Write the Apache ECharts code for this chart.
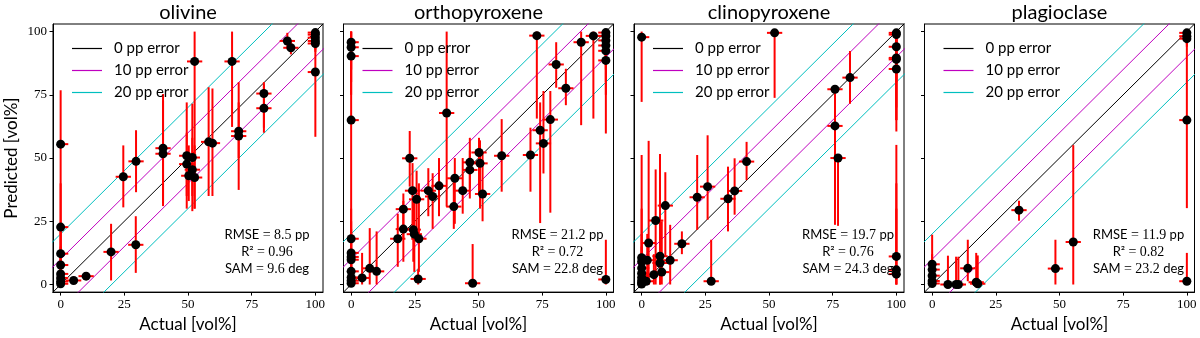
<!DOCTYPE html>
<html lang="en">
<head>
<meta charset="UTF-8">
<title>Predicted vs actual</title>
<script src="https://cdn.jsdelivr.net/npm/echarts@6/dist/echarts.min.js"></script>
<style>html,body{margin:0;background:#fff}</style>
</head>
<body>
<div id="main" style="width:1200px;height:338px;"></div>
<script>
// panel titles
const minerals = ['olivine', 'orthopyroxene', 'clinopyroxene', 'plagioclase'];

// rows: [actual, predicted, predicted low, predicted high]
const olivine = [
  [0, 55.5, 0, 76.8], [0, 22.7, 5, 40], [0, 12.2, 2, 22], [0, 7.7, 0, 15],
  [0, 4.2, 0, 9], [0, 2.6, 0, 6], [0, 1.2, 0, 3], [0, 0.3, 0, 1],
  [5.1, 1.6, 0.5, 3], [10.0, 3.3, 2, 4.8], [19.8, 12.9, 1.6, 24.0],
  [24.6, 42.6, 30.5, 55.0], [29.5, 15.7, 4.6, 27.0], [29.6, 48.7, 36.5, 61.0],
  [40.2, 53.9, 31.0, 75.3], [40.2, 51.7, 32.0, 72.8], [49.5, 50.9, 30.0, 72.0],
  [49.5, 47.6, 35.0, 60.0], [50.3, 43.0, 33.0, 55.0], [51.7, 50.2, 29.0, 71.5],
  [51.7, 45.4, 35.0, 58.0], [52.6, 42.3, 30.0, 55.0], [52.6, 88.2, 30.0, 100],
  [58.1, 56.4, 35.0, 78.0], [59.6, 55.9, 35.0, 77.5], [67.3, 88.2, 62.3, 100],
  [69.9, 60.6, 50.0, 72.0], [69.9, 58.7, 37.4, 80.0], [79.8, 75.5, 62.0, 80.0],
  [79.8, 69.7, 60.0, 79.0], [89.0, 96.3, 93.0, 99.5], [90.4, 93.6, 91.0, 96.0],
  [100, 99.6, 98, 100], [100, 98.8, 96, 100], [100, 97.6, 95, 100],
  [100, 96.3, 93, 99], [100, 95.3, 92, 98], [100, 84.0, 58.4, 100]
];
const orthopyroxene = [
  [0, 95.8, 85, 100], [0, 93.8, 80, 100], [0, 90.3, 75, 100], [0, 65.0, 0, 100],
  [0, 18.1, 5, 30], [0, 12.5, 2, 25], [0, 10.9, 0, 22], [0, 9.8, 0, 20],
  [0, 5.2, 0, 12], [0, 2.8, 0, 6], [0, 1.5, 0, 4], [0, 0.5, 0, 2],
  [4.3, 2.6, 0, 12.5], [7.3, 6.4, 0, 22.3], [10.0, 5.2, 0, 21.0],
  [18.3, 18.1, 7, 28], [20.5, 29.8, 18, 36], [20.5, 21.9, 9, 33],
  [23.0, 49.9, 38.7, 60.7], [24.1, 37.1, 22, 48], [24.4, 21.7, 9, 34],
  [24.8, 19.9, 5, 35], [25.7, 33.7, 20, 45], [26.6, 18.1, 5, 40],
  [26.3, 2.2, 0, 6], [30.3, 37.1, 27, 46], [32.0, 34.8, 22, 44],
  [34.5, 39.0, 27, 50], [37.5, 67.8, 30.8, 100], [40.3, 30.8, 22, 43],
  [40.7, 42.0, 24, 50], [43.8, 37.1, 28, 50], [46.6, 48.3, 34, 58],
  [46.6, 45.3, 38, 53], [47.7, 0.5, 0, 16], [50.2, 52.2, 36, 58],
  [50.6, 47.9, 30, 57], [51.6, 35.8, 25, 52], [59.1, 50.9, 36.7, 65.4],
  [70.4, 51.2, 36.7, 62], [72.9, 98.4, 65.6, 100], [74.2, 61.0, 24.3, 72],
  [75.5, 55.8, 43.9, 76.5], [78.2, 65.2, 28.4, 76.5], [80.5, 87.0, 77.8, 95.8],
  [84.3, 77.6, 70.9, 85.3], [90.3, 95.8, 63, 100], [95.1, 98.3, 65.6, 100],
  [100, 99.6, 90, 100], [100, 98.3, 88, 100], [100, 96.5, 85, 100],
  [100, 94.5, 80, 100], [100, 92.4, 75, 100], [100, 88.6, 59.7, 100],
  [100, 2.0, 0, 17.7]
];
const clinopyroxene = [
  [0, 97.8, 72.2, 100], [0, 10.6, 0, 51.2], [0, 9.0, 0, 30], [0, 6.5, 0, 20],
  [0, 4.5, 0, 15], [0, 2.8, 0, 10], [0, 1.5, 0, 6], [0, 0.6, 0, 3], [0, 0.2, 0, 1],
  [1.8, 1.3, 0, 5], [2.2, 9.6, 0, 20], [2.75, 16.4, 0, 56.8], [4.8, 3.9, 0, 12],
  [5.5, 25.3, 0, 45.5], [7.2, 11.2, 0, 51.6], [7.2, 8.5, 0, 40], [7.9, 4.9, 0, 25],
  [9.3, 31.2, 11.2, 44.4], [11.2, 9.6, 0, 23.6], [15.8, 16.1, 12, 21],
  [21.8, 34.5, 21.6, 51.2], [25.9, 38.7, 25.6, 59.0], [27.3, 1.3, 0, 17.7],
  [33.9, 33.9, 21.0, 46.6], [36.5, 37.0, 27.6, 49.9], [41.2, 48.6, 41.3, 56.4],
  [52.2, 99.5, 73.8, 100], [75.9, 77.2, 23.6, 77.4], [75.9, 62.7, 30, 75],
  [77.1, 50.0, 23.2, 50.0], [81.8, 81.8, 71.5, 92.3],
  [100, 99.5, 85, 100], [100, 98.8, 80, 100], [100, 94.0, 70, 100],
  [100, 89.6, 65, 100], [100, 89.0, 60.5, 100], [100, 85.2, 65, 100],
  [100, 11.1, 0, 55.2], [100, 5.8, 0, 40], [100, 4.1, 0, 30]
];
const plagioclase = [
  [0, 8.0, 0, 19.7], [0, 5.9, 0, 12], [0, 3.5, 0, 8], [0, 1.4, 0, 4], [0, 0.4, 0, 2],
  [6.2, 0, 0, 11.4], [9.4, 0, 0, 11.0], [10.3, 0, 0, 11.0], [14.0, 6.4, 1.3, 17.7],
  [17.3, 0.9, 0, 12.5], [17.9, 0.3, 0, 11.5], [34.1, 29.4, 25.2, 33.1],
  [48.4, 6.3, 0, 17.7], [55.4, 16.8, 0, 55.1],
  [100, 99.5, 97, 100], [100, 98.2, 95, 100], [100, 97.2, 94, 100],
  [100, 65.0, 30.2, 100], [100, 1.3, 0, 12.5]
];

// per-panel scores
const rmse = ['8.5', '21.2', '19.7', '11.9'];
const r2 = ['0.96', '0.72', '0.76', '0.82'];
const sam = ['9.6', '22.8', '24.3', '23.2'];

const tickValues = [0, 25, 50, 75, 100];
const errorOffsets = [0, 10, -10, 20, -20];
const lineNames = ['0 pp error', '10 pp error', '20 pp error'];
const xErr = 3;

const panels = [olivine, orthopyroxene, clinopyroxene, plagioclase];
const lineColors = ['#000000', '#bf00bf', '#00bfbf'];
const axMin = -3, axMax = 103;
const gridTop = 24, gridH = 269, gridW = 270, gridLeft0 = 53, gridStep = 290.5;
const sans = 'Lato', serif = 'Liberation Serif';

var myChart = echarts.init(document.getElementById('main'));

function renderErrorBars(params, api) {
    var x = api.value(0), y = api.value(1);
    var pLo = api.coord([x, api.value(2)]);
    var pHi = api.coord([x, api.value(3)]);
    var pL = api.coord([Math.max(0, x - xErr), y]);
    var pR = api.coord([Math.min(100, x + xErr), y]);
    var style = {stroke: '#ff0000', lineWidth: 2};
    return {
        type: 'group',
        children: [
            {type: 'line', shape: {x1: pLo[0], y1: pLo[1], x2: pHi[0], y2: pHi[1]}, style: style},
            {type: 'line', shape: {x1: pL[0], y1: pL[1], x2: pR[0], y2: pR[1]}, style: style}
        ]
    };
}

var grids = [], xAxes = [], yAxes = [], series = [], legends = [], graphics = [];

panels.forEach(function (rows, i) {
    var left = gridLeft0 + i * gridStep;
    grids.push({left: left, top: gridTop, width: gridW, height: gridH,
        show: true, borderColor: '#000', borderWidth: 1});

    xAxes.push({
        type: 'value', gridIndex: i, min: axMin, max: axMax,
        splitLine: {show: false},
        axisLine: {show: true, onZero: false, lineStyle: {color: '#000'}},
        axisTick: {show: true, length: 3.5, customValues: tickValues, lineStyle: {color: '#000'}},
        axisLabel: {customValues: tickValues, fontFamily: serif, fontSize: 13, color: '#000', margin: 6},
        name: 'Actual [vol%]', nameLocation: 'middle', nameGap: 21,
        nameTextStyle: {fontFamily: sans, fontSize: 17, color: '#000'}
    });
    yAxes.push({
        type: 'value', gridIndex: i, min: axMin, max: axMax,
        splitLine: {show: false},
        axisLine: {show: true, onZero: false, lineStyle: {color: '#000'}},
        axisTick: {show: true, length: 3.5, customValues: tickValues, lineStyle: {color: '#000'}},
        axisLabel: {show: i === 0, customValues: tickValues, fontFamily: serif, fontSize: 13, color: '#000', margin: 6},
        name: i === 0 ? 'Predicted [vol%]' : '', nameLocation: 'middle', nameGap: 33, nameRotate: 90,
        nameTextStyle: {fontFamily: sans, fontSize: 17, color: '#000'}
    });

    // reference lines y = x + offset
    errorOffsets.forEach(function (off) {
        var k = Math.abs(off) / 10;
        series.push({
            type: 'line', name: lineNames[k], xAxisIndex: i, yAxisIndex: i,
            data: [[axMin - 30, axMin - 30 + off], [axMax + 30, axMax + 30 + off]],
            symbol: 'none', silent: true, clip: true, z: 1,
            lineStyle: {color: lineColors[k], width: 1}, itemStyle: {color: lineColors[k]}
        });
    });

    series.push({
        type: 'custom', xAxisIndex: i, yAxisIndex: i, data: rows,
        encode: {x: 0, y: 1}, renderItem: renderErrorBars, silent: true, z: 2
    });
    series.push({
        type: 'scatter', xAxisIndex: i, yAxisIndex: i,
        data: rows.map(function (r) { return [r[0], r[1]]; }),
        symbolSize: 9, itemStyle: {color: '#000', opacity: 1}, silent: true, z: 3
    });

    legends.push({
        data: lineNames, orient: 'vertical', left: left + 14, top: 36,
        icon: 'rect', itemWidth: 30, itemHeight: 1.2, itemGap: 7, selectedMode: false,
        textStyle: {fontFamily: sans, fontSize: 15, lineHeight: 14, color: '#000', padding: [0, 0, 0, 7]}
    });

    var cx = left + gridW / 2;
    graphics.push({type: 'text', x: cx, y: 13,
        style: {text: minerals[i], font: '20px ' + sans, fill: '#000', textAlign: 'center', textVerticalAlign: 'middle'}});

    var sx = left + 214;
    var rich = {
        s: {fontFamily: sans, fontSize: 13, fill: '#000'},
        m: {fontFamily: serif, fontSize: 14, fill: '#000'}
    };
    var lines = [
        '{s|RMSE} {m|= ' + rmse[i] + '} {s|pp}',
        '{s|R²} {m|= ' + r2[i] + '}',
        '{s|SAM} {m|= ' + sam[i] + '} {s|deg}'
    ];
    lines.forEach(function (t, j) {
        graphics.push({type: 'text', x: sx, y: 235 + j * 17, z: 10,
            style: {text: t, rich: rich, textAlign: 'center', textVerticalAlign: 'middle'}});
    });
});

var option = {
    animation: false,
    backgroundColor: '#fff',
    grid: grids,
    xAxis: xAxes,
    yAxis: yAxes,
    legend: legends,
    series: series,
    graphic: {elements: graphics}
};

myChart.setOption(option);
</script>
</body>
</html>
